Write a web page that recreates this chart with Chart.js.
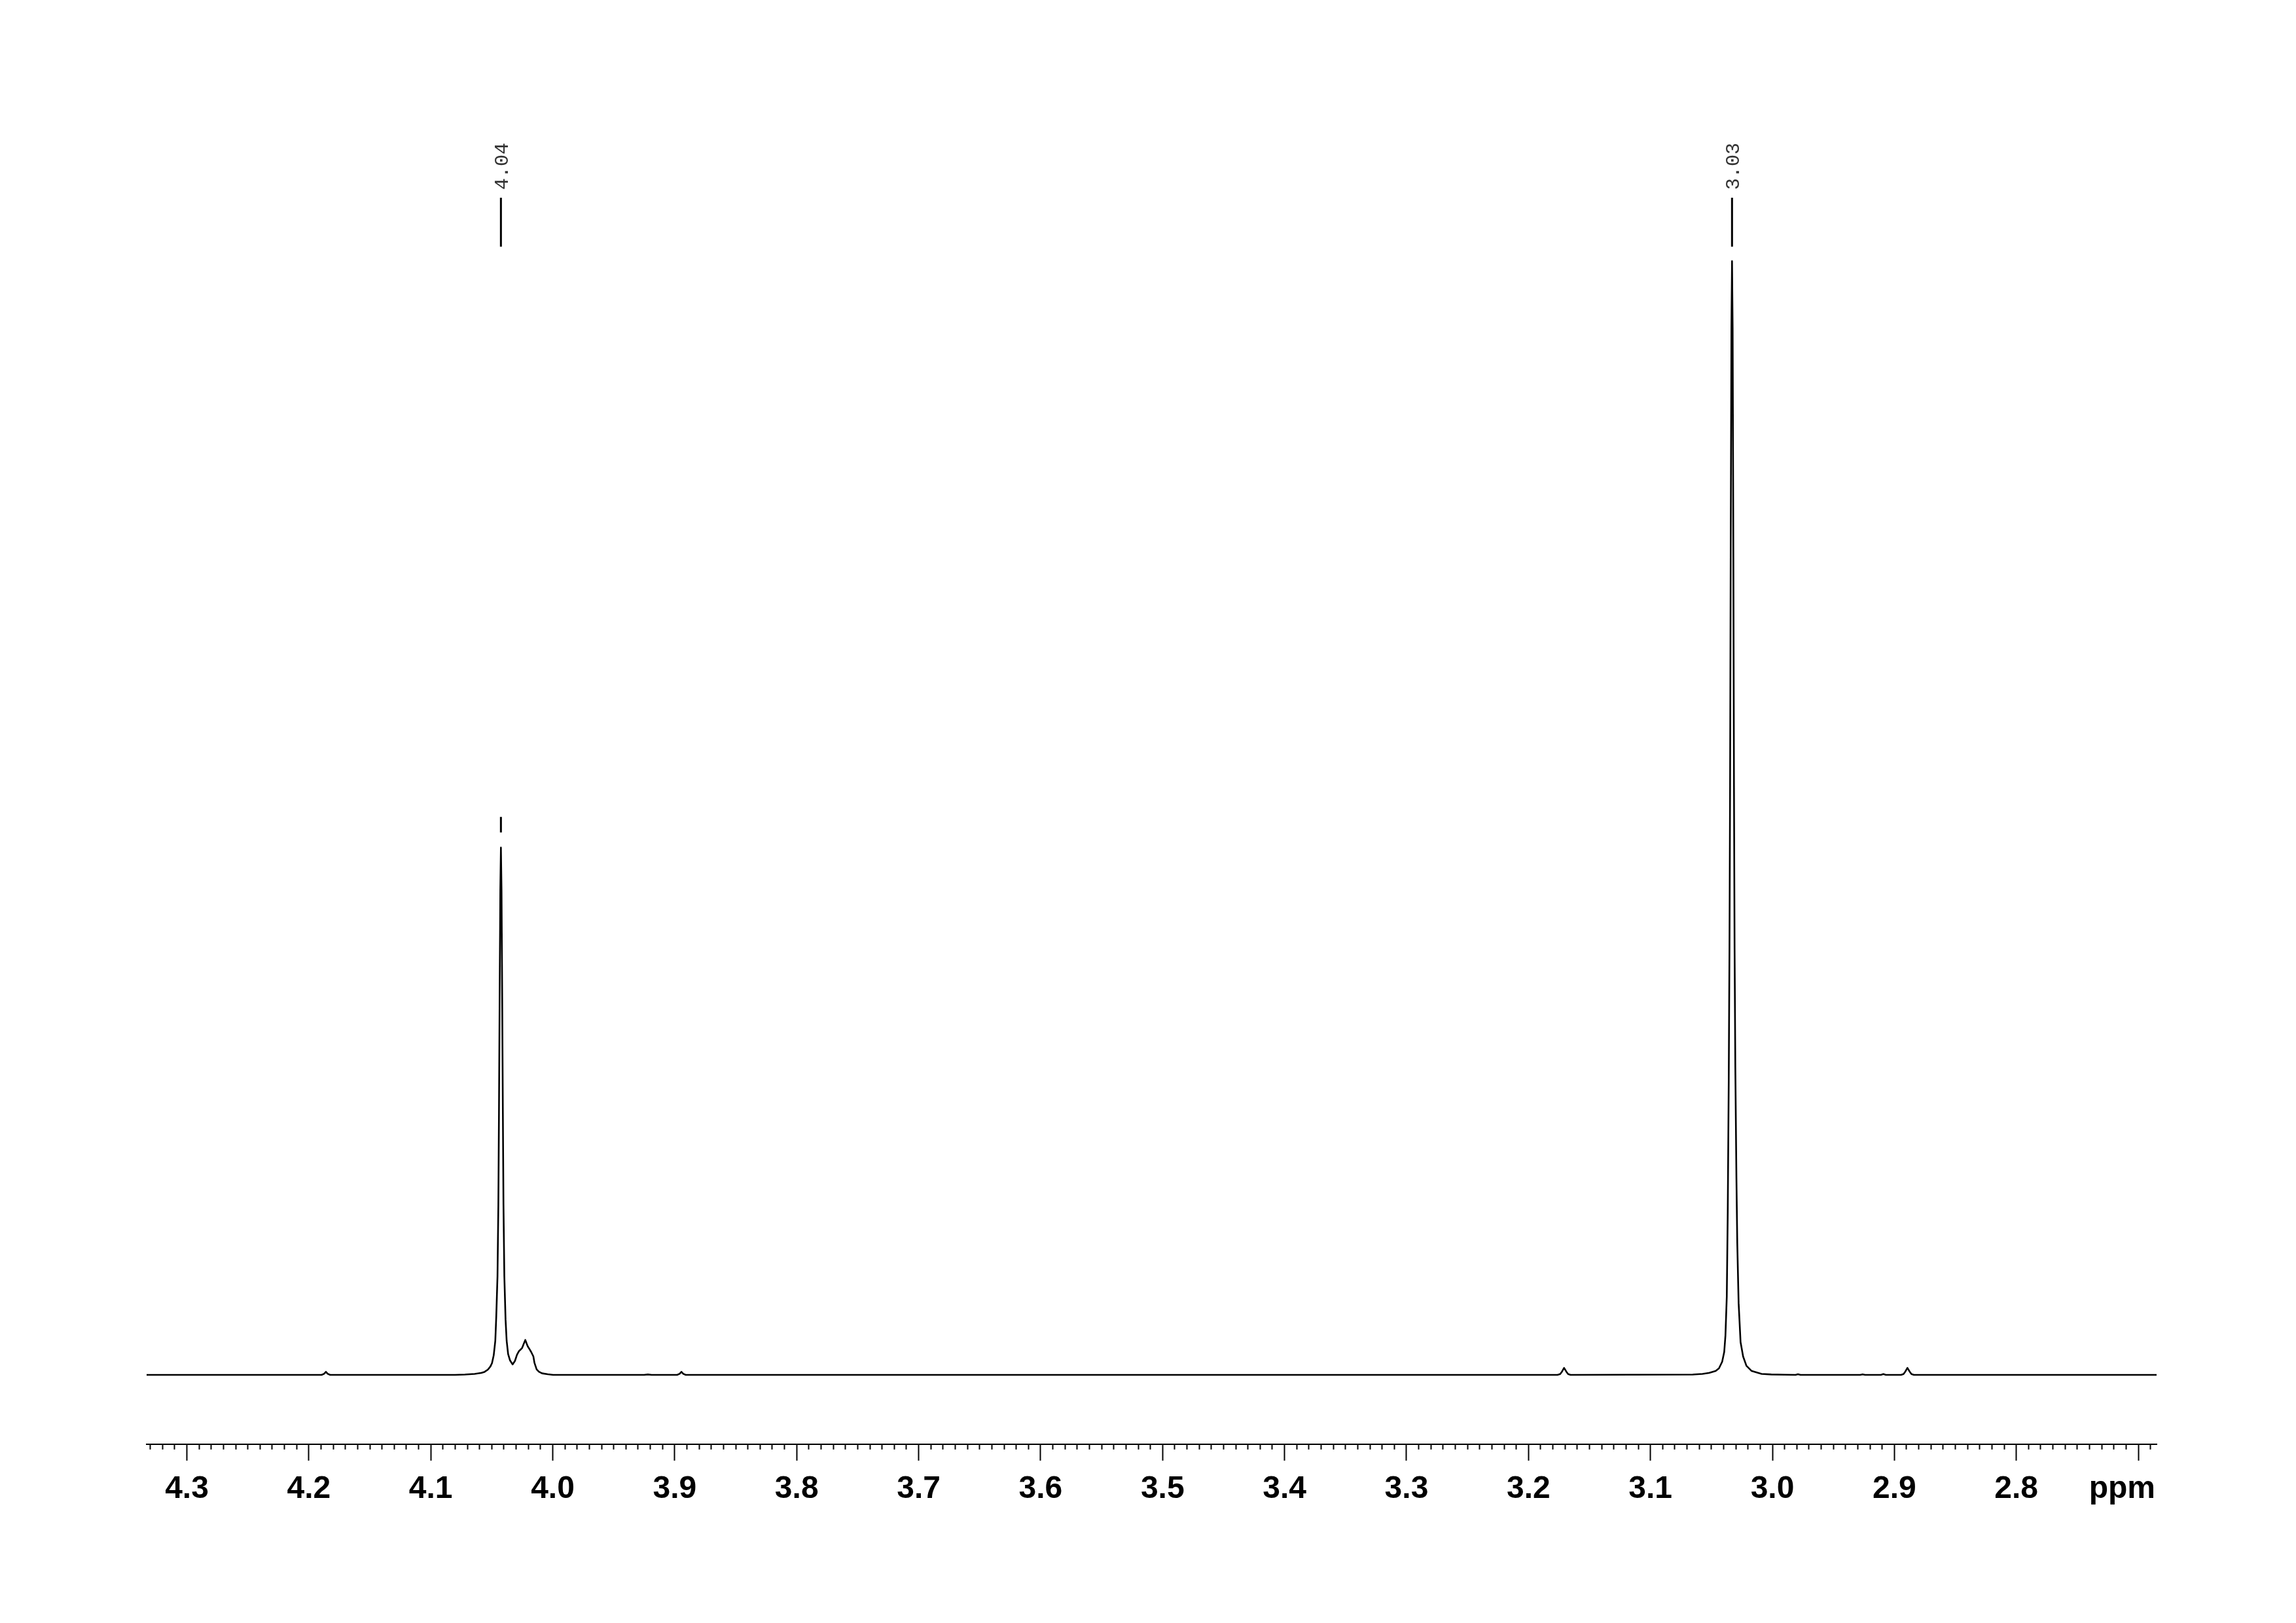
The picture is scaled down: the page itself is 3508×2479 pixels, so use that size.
<!DOCTYPE html>
<html>
<head>
<meta charset="utf-8">
<script src="https://cdn.jsdelivr.net/npm/chart.js@4.4.1/dist/chart.umd.min.js"></script>
<style>
  html, body { margin: 0; padding: 0; background: #ffffff; }
  canvas { display: block; }
</style>
</head>
<body>
<canvas id="c" width="3508" height="2479"></canvas>
<script>
// ---------- data ----------
const ppm = [
  4.333, 4.1895, 4.1875, 4.186, 4.1845, 4.1825,
  4.0800, 4.0720, 4.0640, 4.0586, 4.0559, 4.0532, 4.0511, 4.0498, 4.0484, 4.0471,
  4.0463, 4.0453, 4.0446, 4.0441, 4.0436, 4.0430, 4.0425, 4.0420, 4.0414, 4.0409,
  4.0404, 4.0397, 4.0387, 4.0378, 4.0366, 4.0350, 4.0329, 4.0310, 4.0293, 4.0276, 4.0266, 4.0252, 4.0243,
  4.0225, 4.0212, 4.0204, 4.0190, 4.0177, 4.0159, 4.0150, 4.0132, 4.0114, 4.0088, 4.0042, 3.9998,
  3.9250, 3.9220, 3.9190, 3.8980, 3.8960, 3.8945, 3.8930, 3.8910,
  3.1762, 3.1740, 3.1725, 3.1708, 3.1690, 3.1675, 3.1655,
  3.0653, 3.0573, 3.0519, 3.0465, 3.0438, 3.0412, 3.0395, 3.0385, 3.0374, 3.0366,
  3.0358, 3.0352, 3.0347, 3.0342, 3.0336, 3.0331, 3.0326, 3.0320, 3.0315, 3.0310,
  3.0304, 3.0295, 3.0288, 3.0277, 3.0261, 3.0240, 3.0213, 3.0170, 3.0089, 3.0009,
  2.9901, 2.9810, 2.9790, 2.9770, 2.9280, 2.9260, 2.9240, 2.9110, 2.9090, 2.9070,
  2.8945, 2.8925, 2.8910, 2.8893, 2.8875, 2.8860, 2.8840, 2.685
];
const intensity = [
  0, 0, 1.0, 2.8, 1.0, 0,
  0, 0.3, 0.9, 1.8, 2.7, 4.7, 7.6, 10.6, 17.6, 30.6,
  52.9, 88.7, 152.8, 235, 329, 434.8, 473.5, 434.8, 329, 235,
  152.8, 88.7, 49.9, 30.6, 18.8, 12.9, 9.4, 12.5, 18.2, 21.5, 22.5, 24.0, 26.4,
  31.4, 27.5, 25.4, 23.0, 20.6, 16.6, 10.8, 4.9, 2.9, 1.4, 0.6, 0,
  0, 0.4, 0, 0, 1.0, 2.8, 1.0, 0,
  0, 0.8, 3.0, 6.3, 3.0, 0.8, 0,
  0.3, 0.9, 1.8, 3.5, 5.9, 11.8, 20.6, 35.3, 70.5, 147,
  264, 382, 529, 734, 940, 1000, 940, 734, 529, 382,
  276, 177, 118, 64.6, 29.4, 16.5, 8.2, 3.5, 0.9, 0.4,
  0.2, 0, 0.6, 0, 0, 0.5, 0, 0, 0.7, 0,
  0, 0.8, 3.0, 6.3, 3.0, 0.8, 0, 0
];

// picked peaks (position, printed label)
const peakPpm = [4.0425, 3.0331];
const peakLabels = ['4.04', '3.03'];
// peak-pick marker line extents (intensity units) and the short marker over the 4.04 peak
const pickLine = [1013, 1057];
const pickMarker = [487, 501];

// axis range and ticks
const axisMin = 2.685;
const axisMax = 4.333;
const minorStep = 0.01;
const unitLabel = 'ppm';

// ---------- build datasets ----------
const spectrum = ppm.map((p, i) => ({ x: p, y: intensity[i] }));
const pickSegments = [];
peakPpm.forEach((p) => {
  pickSegments.push({ x: p, y: pickLine[0] }, { x: p, y: pickLine[1] }, { x: p, y: null });
});
pickSegments.push({ x: peakPpm[0], y: pickMarker[0] }, { x: peakPpm[0], y: pickMarker[1] });

const isMajor = (v) => Math.abs(v * 10 - Math.round(v * 10)) < 1e-6;

const TICK_LEN = 25;
const TICK_PAD = 20;
const LABEL_SIZE = 48;
const labelFont = { family: '"Liberation Sans", Arial, sans-serif', size: LABEL_SIZE, weight: 'bold', lineHeight: 1 };

const peakLabelPlugin = {
  id: 'peakLabels',
  afterDatasetsDraw(chart) {
    const { ctx } = chart;
    const xs = chart.scales.x, ys = chart.scales.y;
    ctx.save();
    ctx.font = '30px "Liberation Mono", "DejaVu Sans Mono", monospace';
    ctx.fillStyle = '#333333';
    ctx.textAlign = 'left';
    ctx.textBaseline = 'alphabetic';
    peakPpm.forEach((p, i) => {
      const x = xs.getPixelForValue(p);
      const y = ys.getPixelForValue(pickLine[1]) - 12;
      ctx.save();
      ctx.translate(x, y);
      ctx.rotate(-Math.PI / 2);
      ctx.fillText(peakLabels[i], 0, 11);
      ctx.restore();
    });
    // unit label at the right end of the axis, on the tick-label row
    ctx.font = 'bold ' + LABEL_SIZE + 'px "Liberation Sans", Arial, sans-serif';
    ctx.fillStyle = '#000000';
    ctx.textAlign = 'right';
    ctx.textBaseline = 'middle';
    ctx.fillText(unitLabel, xs.right - 2, xs.top + TICK_LEN + TICK_PAD + LABEL_SIZE / 2);
    ctx.restore();
  }
};

new Chart(document.getElementById('c'), {
  type: 'line',
  data: {
    datasets: [
      {
        label: 'spectrum',
        data: spectrum,
        borderColor: '#000000',
        borderWidth: 2.6,
        borderJoinStyle: 'round',
        pointRadius: 0,
        tension: 0,
        fill: false
      },
      {
        label: 'picks',
        data: pickSegments,
        borderColor: '#000000',
        borderWidth: 3,
        pointRadius: 0,
        spanGaps: false,
        fill: false
      }
    ]
  },
  options: {
    responsive: false,
    devicePixelRatio: 1,
    animation: false,
    events: [],
    layout: { padding: { top: 100, left: 224, right: 213, bottom: 160 } },
    plugins: { legend: { display: false }, tooltip: { enabled: false } },
    scales: {
      x: {
        type: 'linear',
        position: 'bottom',
        reverse: true,
        min: axisMin,
        max: axisMax,
        border: { display: true, color: '#000000', width: 2 },
        grid: {
          drawOnChartArea: false,
          drawTicks: true,
          tickLength: TICK_LEN,
          tickWidth: 2,
          tickColor: '#000000',
          tickBorderDash: (ctx) => (ctx.tick && !isMajor(ctx.tick.value)) ? [7, 200] : []
        },
        ticks: {
          stepSize: minorStep,
          autoSkip: false,
          includeBounds: false,
          maxRotation: 0,
          minRotation: 0,
          padding: TICK_PAD,
          color: '#000000',
          font: labelFont,
          callback: (v) => {
            if (!isMajor(v)) return '';
            if (Math.abs(v - 2.7) < 1e-6) return '';
            return v.toFixed(1);
          }
        }
      },
      y: {
        display: false,
        min: -62.3,
        max: 1175.7
      }
    }
  },
  plugins: [peakLabelPlugin]
});
</script>
</body>
</html>
